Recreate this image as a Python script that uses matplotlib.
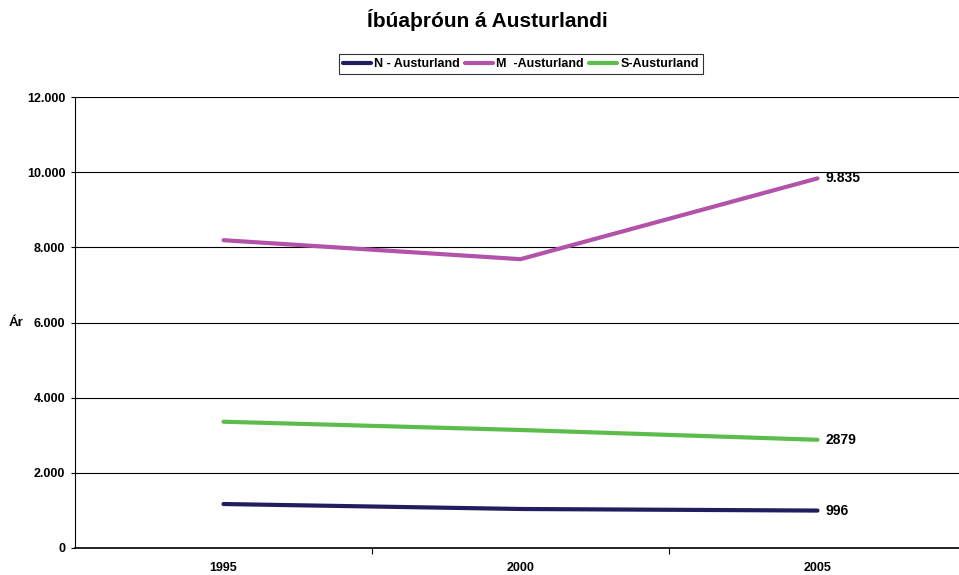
import matplotlib
matplotlib.use('Agg')
import matplotlib.pyplot as plt
from matplotlib.ticker import FuncFormatter, FixedLocator

years = ['1995', '2000', '2005']
n_aust = [1170, 1038, 996]
m_aust = [8190, 7685, 9835]
s_aust = [3360, 3140, 2879]
end_labels = ['996', '9.835', '2879']

plt.rcParams['font.family'] = ['Liberation Sans', 'DejaVu Sans']

fig = plt.figure(figsize=(9.59, 5.75), dpi=100)
ax = fig.add_axes([75/959, 1 - 548/575, (966 - 75)/959, (548 - 97)/575])

x = list(range(len(years)))
series = [
    (n_aust, 'N - Austurland', '#221d5e'),
    (m_aust, 'M  -Austurland', '#b252a9'),
    (s_aust, 'S-Austurland', '#5dbd4c'),
]
for vals, name, col in series:
    ax.plot(x, vals, color=col, lw=3, label=name, solid_capstyle='round', zorder=3)

for (vals, _, _), lab in zip(series, end_labels):
    ax.annotate(lab, (x[-1], vals[-1]), xytext=(6, 0), textcoords='offset points',
                va='center', ha='left', fontsize=10, fontweight='bold')

ax.set_xlim(-0.5, 2.5)
ax.set_ylim(0, 12000)
ax.set_yticks(range(0, 12001, 2000))
ax.yaxis.set_major_formatter(FuncFormatter(lambda v, p: f'{int(v):,}'.replace(',', '.')))
ax.grid(axis='y', color='black', lw=0.8)
ax.set_axisbelow(True)

ax.xaxis.set_major_locator(FixedLocator([0.5, 1.5]))
ax.xaxis.set_minor_locator(FixedLocator(x))
ax.set_xticklabels([], minor=False)
ax.set_xticklabels(years, minor=True)
ax.tick_params(axis='x', which='major', length=4, width=0.8, direction='out')
ax.tick_params(axis='x', which='minor', length=0, pad=10, labelsize=9)
ax.tick_params(axis='y', length=3, width=0.8, labelsize=9, pad=4)
for lab in ax.get_xticklabels(minor=True) + ax.get_yticklabels():
    lab.set_fontweight('bold')

for s in ['top', 'right']:
    ax.spines[s].set_visible(False)
ax.spines['left'].set_linewidth(0.8)
ax.spines['bottom'].set_linewidth(1.2)

fig.text(9/959, 1 - 323/575, 'Ár', fontsize=9.5, fontweight='bold', ha='left', va='center')
fig.text(487/959, 1 - 20/575, 'Íbúaþróun á Austurlandi', fontsize=15, fontweight='bold',
         ha='center', va='center')

leg = fig.legend(loc='center', bbox_to_anchor=(521/959, 1 - 64/575), ncol=3,
                 prop={'size': 9, 'weight': 'bold'}, frameon=True, fancybox=False,
                 handlelength=2.2, handletextpad=0.3, columnspacing=0.4,
                 borderpad=0.3, borderaxespad=0)
leg.get_frame().set_edgecolor('black')
leg.get_frame().set_linewidth(0.8)

fig.savefig('out.png', dpi=100)
